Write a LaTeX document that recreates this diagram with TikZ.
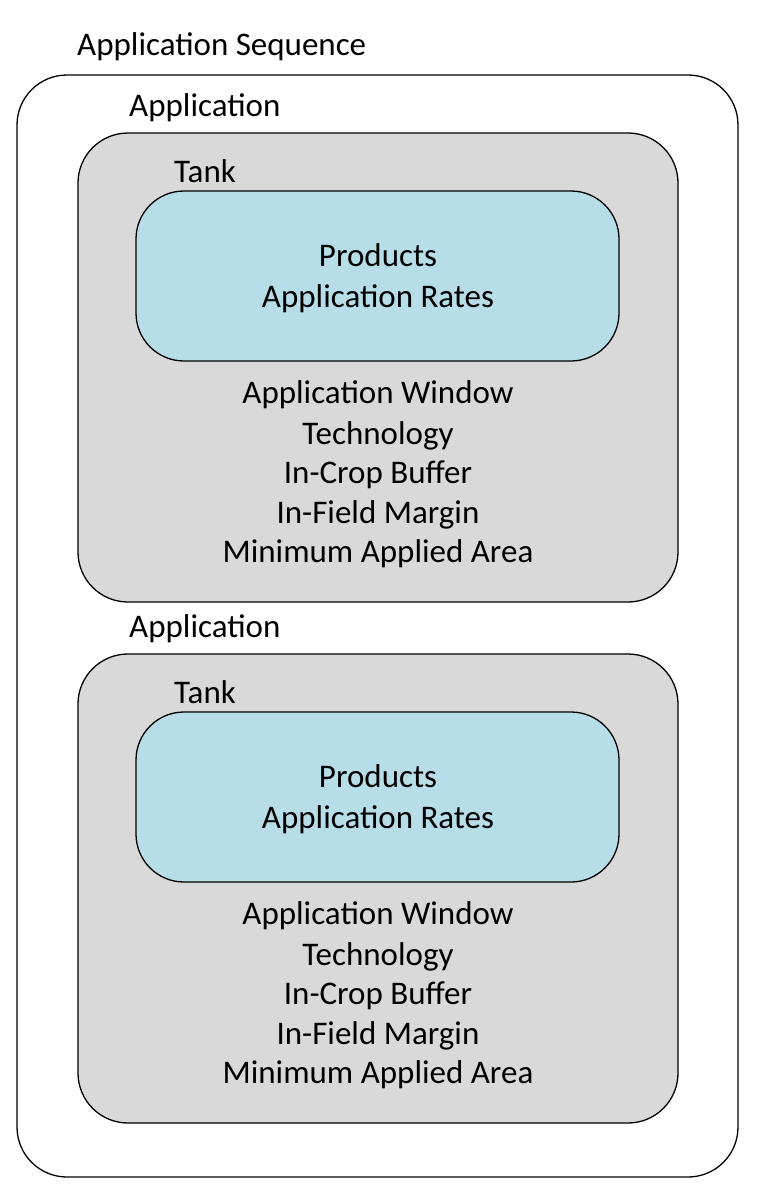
\documentclass[tikz,border=0pt]{standalone}
\usepackage{fontspec}
\setmainfont{Carlito}
\begin{document}
\begin{tikzpicture}[x=1pt,y=-1pt,
  lbl/.style={font=\fontsize{33}{40}\selectfont, inner sep=0pt, anchor=base west},
  txt/.style={font=\fontsize{33}{40}\selectfont, inner sep=0pt, anchor=base},
  outerbox/.style={draw=black, line width=1.3pt, fill=white, rounded corners=50pt, minimum width=721pt, minimum height=1102pt, inner sep=0pt},
  appbox/.style={draw=black, line width=1.3pt, fill=graybg, rounded corners=50pt, minimum width=600pt, minimum height=469pt, inner sep=0pt},
  tankbox/.style={draw=black, line width=1.3pt, fill=bluebg, rounded corners=48pt, minimum width=483pt, minimum height=170pt, inner sep=0pt}
]
\definecolor{graybg}{HTML}{D9D9D9}
\definecolor{bluebg}{HTML}{B7DDE8}
\useasboundingbox (0,0) rectangle (765,1199);
\fill[white] (0,0) rectangle (765,1199);
\node[outerbox] (seq) at (377.5,626) {};
\node[lbl] (seqlbl) at (77,56) {Application Sequence};
\foreach \i/\d in {1/0,2/521}{
  \node[appbox] (app\i) at (378,367.5+\d) {};
  \node[lbl] (applbl\i) at (129,116+\d) {Application};
  \node[lbl] (tanklbl\i) at (174,182+\d) {Tank};
  \node[tankbox] (tank\i) at (377.5,276+\d) {};
  \node[txt] (prod\i) at (378,266+\d) {Products};
  \node[txt] (rates\i) at (378,307+\d) {Application Rates};
  \node[txt] (win\i) at (378,403+\d) {Application Window};
  \node[txt] (tech\i) at (378,444+\d) {Technology};
  \node[txt] (buf\i) at (378,483+\d) {In-Crop Buffer};
  \node[txt] (marg\i) at (378,523+\d) {In-Field Margin};
  \node[txt] (area\i) at (378,562+\d) {Minimum Applied Area};
}
\end{tikzpicture}
\end{document}
